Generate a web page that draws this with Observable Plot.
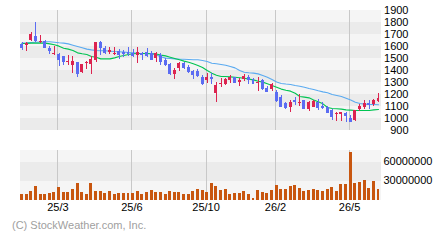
<!DOCTYPE html>
<html><head><meta charset="utf-8">
<script src="https://cdn.jsdelivr.net/npm/d3@7"></script>
<script src="https://cdn.jsdelivr.net/npm/@observablehq/plot@0.6"></script>
<style>
body{margin:0;background:#fff;}
#wrap{position:relative;width:440px;height:240px;overflow:hidden;font-family:"Liberation Sans",Arial,sans-serif;}
#price,#vol{position:absolute;left:0;}
#price{top:0}
#vol{top:140px}
#cap{position:absolute;left:12px;top:219px;font-size:11px;color:#a0a0a0;white-space:nowrap;}
</style></head><body>
<div id="wrap"><div id="price"></div><div id="vol"></div><div id="cap">(C) StockWeather.com, Inc.</div></div>
<script>
const open = [1614,1611,1650,1683,1630,1639,1583,1536,1533,1516, 1466,1441,1466,1386,1455,1452,1483,1633,1580,1552, 1536,1555,1552,1550,1539,1525,1544,1550,1544,1497, 1528,1483,1447,1367,1419,1455,1428,1394,1389,1344, 1317,1344,1206,1286,1286,1317,1339,1300,1328,1344, 1325,1289,1317,1250,1239,1219,1178,1122,1090,1150, 1128,1147,1078,1094,1136,1097,1094,1067,1031,1033, 1039,1000,983,1072,1094,1125,1114,1139];
const high = [1630,1636,1716,1800,1691,1650,1603,1600,1544,1519, 1525,1516,1466,1447,1477,1516,1633,1644,1600,1591, 1594,1572,1566,1591,1572,1591,1550,1583,1555,1550, 1539,1500,1455,1419,1466,1466,1439,1400,1405,1358, 1372,1378,1303,1330,1336,1355,1344,1336,1367,1355, 1330,1339,1322,1267,1294,1233,1189,1136,1150,1178, 1203,1150,1139,1150,1155,1136,1100,1078,1053,1053, 1053,1025,1067,1117,1147,1147,1155,1205];
const low = [1567,1561,1644,1636,1622,1580,1530,1525,1436,1441, 1439,1375,1344,1377,1411,1369,1466,1525,1530,1536, 1522,1494,1505,1516,1511,1461,1483,1505,1483,1469, 1441,1433,1361,1328,1392,1411,1378,1322,1339,1275, 1289,1283,1133,1261,1275,1294,1289,1269,1311,1286, 1286,1225,1233,1217,1228,1133,1094,1072,1050,1111, 1100,1072,1061,1089,1067,1072,1044,983,978,978, 969,967,975,1061,1078,1075,1100,1130];
const close = [1594,1625,1700,1650,1641,1589,1566,1544,1494,1477, 1475,1475,1377,1447,1469,1489,1633,1589,1552,1566, 1541,1533,1544,1539,1522,1550,1533,1525,1494,1544, 1478,1447,1378,1400,1461,1428,1394,1367,1355,1289, 1344,1333,1275,1294,1328,1344,1297,1317,1350,1322, 1292,1303,1247,1228,1280,1150,1100,1094,1136,1144, 1136,1081,1136,1144,1094,1092,1053,1017,1039,1047, 1028,972,1067,1100,1122,1120,1150,1169];
const volume = [9500000,9500000,14200000,22100000,9500000,9500000,11100000,12600000,20500000,12600000, 12600000,17400000,26800000,12600000,9500000,26800000,14200000,14200000,11100000,14200000, 9500000,11100000,11100000,11100000,11100000,14200000,9500000,12600000,15800000,12600000, 12600000,9500000,14200000,12600000,12600000,9500000,9500000,14200000,17400000,15800000, 12600000,26800000,22100000,15800000,17400000,9500000,11100000,11100000,14200000,9500000, 3200000,15800000,12600000,11100000,15800000,23700000,17400000,17400000,22100000,23700000, 18900000,14200000,15800000,17400000,15800000,14200000,17400000,20500000,14200000,25300000, 25300000,75800000,26800000,28400000,31600000,18900000,30000000,17400000];
const ma13 = [1625,1626,1628,1628,1628,1628,1622,1614,1603,1586, 1578,1567,1547,1539,1533,1517,1511,1497,1497,1497, 1505,1517,1525,1533,1539,1542,1542,1542,1540,1538, 1528,1522,1511,1500,1489,1478,1469,1456,1442,1425, 1400,1378,1360,1350,1350,1347,1344,1340,1336,1328, 1322,1311,1303,1289,1275,1261,1245,1236,1228,1210, 1183,1178,1172,1155,1140,1122,1092,1083,1081,1078, 1072,1070,1067,1067,1067,1067,1072,1075];
const ma26 = [1628,1630,1633,1636,1638,1639,1639,1636,1631,1628, 1622,1611,1600,1589,1578,1572,1567,1564,1564,1561, 1558,1556,1553,1550,1547,1544,1542,1541,1539,1530, 1515,1503,1500,1497,1495,1494,1492,1490,1489,1483, 1475,1461,1456,1450,1444,1433,1422,1400,1385,1381, 1378,1372,1358,1344,1325,1305,1292,1287,1283,1275, 1269,1261,1250,1242,1231,1222,1214,1200,1192,1183, 1169,1155,1136,1125,1120,1117,1117,1114];
const tickIndex = [8, 24, 40, 55, 71];
const tickLabels = ["25/3", "25/6", "25/10", "26/2", "26/5"];
const priceTicks = [900,1000,1100,1200,1300,1400,1500,1600,1700,1800,1900];
const volTicks = [30000000, 60000000];

const UP = "#dc2450", DOWN = "#5b6cf2", VOLC = "#c8560f";
const LIGHT = "#f5f5f5", DARK = "#ebebeb", GRID = "#c8c8c8";
const candles = open.map((o, i) => ({i, open: o, high: high[i], low: low[i], close: close[i], volume: volume[i], up: close[i] >= o}));
const xDomain = [-0.324, 77.65];
const tickPos = tickIndex.map(d => d - 0.25);
const priceBands = priceTicks.slice(0, -1).map((d, k) => ({y1: d, y2: priceTicks[k + 1], fill: k % 2 === 0 ? DARK : LIGHT}));
const volEdges = [0, ...volTicks, 78947368];
const volBands = volEdges.slice(0, -1).map((d, k) => ({y1: d, y2: volEdges[k + 1], fill: k % 2 === 0 ? LIGHT : DARK}));
const font = {fontFamily: '"Liberation Sans", Arial, sans-serif', fontSize: "11px", color: "#000", background: "transparent"};

const price = Plot.plot({
  width: 440, height: 140, marginLeft: 20, marginRight: 59, marginTop: 10, marginBottom: 10,
  x: {domain: xDomain, axis: null},
  y: {domain: [900, 1900], axis: null},
  style: font,
  marks: [
    Plot.rect(priceBands, {x1: xDomain[0], x2: xDomain[1], y1: "y1", y2: "y2", fill: "fill", shapeRendering: "crispEdges"}),
    Plot.ruleX(tickPos, {x: d => d, stroke: GRID, shapeRendering: "crispEdges"}),
    Plot.line(ma26, {x: (d, i) => i, y: d => d, stroke: "#5aaaf0", strokeWidth: 1.1}),
    Plot.line(ma13, {x: (d, i) => i, y: d => d, stroke: "#00c452", strokeWidth: 1.1}),
    Plot.ruleX(candles, {x: "i", y1: "low", y2: "high", stroke: d => d.up ? UP : DOWN, shapeRendering: "crispEdges"}),
    Plot.rect(candles, {x1: d => d.i - 0.32, x2: d => d.i + 0.32, y1: "open", y2: "close", fill: d => d.up ? UP : DOWN, shapeRendering: "crispEdges"}),
    Plot.ruleY(candles, {x1: d => d.i - 0.32, x2: d => d.i + 0.32, y: "close", stroke: d => d.up ? UP : DOWN, shapeRendering: "crispEdges"}),
    Plot.axisY(priceTicks, {anchor: "right", tickSize: 0, tickPadding: 27, textAnchor: "end", tickFormat: d => String(d)})
  ]
});
document.getElementById("price").appendChild(price);

const vol = Plot.plot({
  width: 440, height: 80, marginLeft: 20, marginRight: 59, marginTop: 10, marginBottom: 20,
  x: {domain: xDomain, axis: null},
  y: {domain: [0, 78947368], axis: null},
  style: font,
  marks: [
    Plot.rect(volBands, {x1: xDomain[0], x2: xDomain[1], y1: "y1", y2: "y2", fill: "fill", shapeRendering: "crispEdges"}),
    Plot.ruleX(tickPos, {x: d => d, stroke: GRID, shapeRendering: "crispEdges"}),
    Plot.rectY(candles, {x1: d => d.i - 0.32, x2: d => d.i + 0.32, y: "volume", fill: VOLC, shapeRendering: "crispEdges"}),
    Plot.axisY(volTicks, {anchor: "right", tickSize: 0, tickPadding: 2, dy: -1, tickFormat: d => String(d)}),
    Plot.axisX(tickPos, {tickSize: 0, tickPadding: 3, tickFormat: d => tickLabels[tickPos.indexOf(d)]})
  ]
});
document.getElementById("vol").appendChild(vol);
</script>
</body></html>
